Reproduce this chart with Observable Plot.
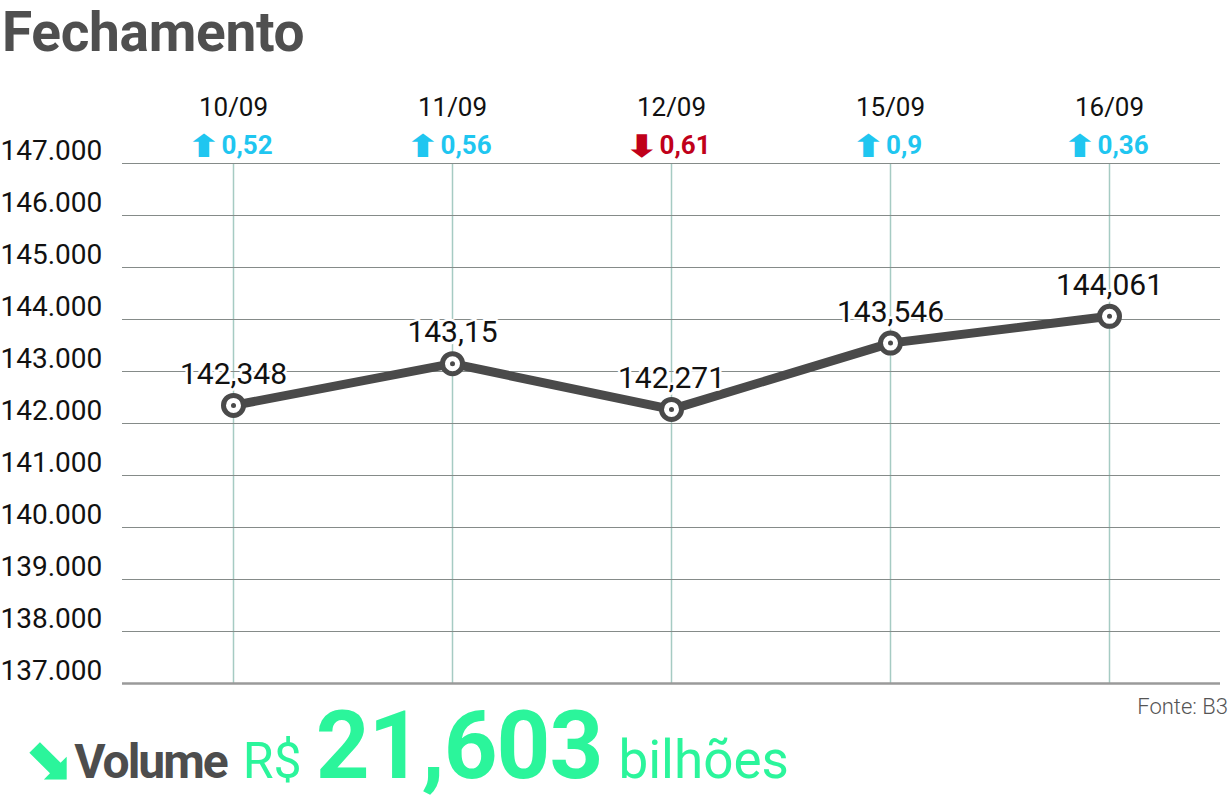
<!DOCTYPE html>
<html>
<head>
<meta charset="utf-8">
<script src="https://cdn.jsdelivr.net/npm/d3@7"></script>
<script src="https://cdn.jsdelivr.net/npm/@observablehq/plot@0.6"></script>
<style>
  html, body { margin: 0; padding: 0; background: #fff; }
  body { width: 1232px; height: 803px; position: relative; overflow: hidden; font-family: Roboto, sans-serif; }
  #title { position: absolute; left: 2px; top: 0px; font-size: 55px; line-height: normal; font-weight: 700; color: #4f4f4f; letter-spacing: -0.3px; }
  #chart { position: absolute; left: 0; top: 60px; }
  #source { position: absolute; right: 4px; top: 696px; font-size: 22px; line-height: 1; font-weight: 300; color: #555; }
  #volume { position: absolute; left: 0; top: 699px; display: flex; align-items: baseline; line-height: 1; color: #2bf59b; white-space: nowrap; }
  #volume .arrow { font-family: "DejaVu Sans", sans-serif; font-weight: 700; font-size: 60px; margin-left: 22px; }
  #volume .lbl { font-weight: 700; font-size: 48px; color: #4d4d4d; letter-spacing: -2px; margin-left: 2px; }
  #volume .cur { font-weight: 400; font-size: 50px; margin-left: 16px; }
  #volume .num { font-weight: 700; font-size: 94px; margin-left: 14px; letter-spacing: -1px; }
  #volume .unit { font-weight: 400; font-size: 53px; margin-left: 16px; }
</style>
</head>
<body>
<div id="title">Fechamento</div>
<div id="chart"></div>
<div id="source">Fonte: B3</div>
<div id="volume"><span class="arrow">⬊</span><span class="lbl">Volume</span><span class="cur" id="cur"></span><span class="num" id="num"></span><span class="unit" id="unit"></span></div>
<script>
// ---- data ----
const dates = ["10/09", "11/09", "12/09", "15/09", "16/09"];
const closes = [142348, 143150, 142271, 143546, 144061];
const closeLabels = ["142,348", "143,15", "142,271", "143,546", "144,061"];
const changes = [0.52, 0.56, -0.61, 0.9, 0.36];
const changeLabels = ["0,52", "0,56", "0,61", "0,9", "0,36"];
const yTicks = [137000, 138000, 139000, 140000, 141000, 142000, 143000, 144000, 145000, 146000, 147000];
const volumeCurrency = "R$";
const volumeValue = "21,603";
const volumeUnit = "bilhões";

document.getElementById("cur").textContent = volumeCurrency;
document.getElementById("num").textContent = volumeValue;
document.getElementById("unit").textContent = volumeUnit;

const br = d3.formatLocale({decimal: ",", thousands: ".", grouping: [3], currency: ["R$", ""]});
const fmt = br.format(",");

const data = dates.map((d, i) => ({
  date: d,
  close: closes[i],
  label: closeLabels[i],
  change: changes[i],
  arrow: changes[i] >= 0 ? "⬆" : "⬇",
  changeLabel: changeLabels[i]
}));

const gridTicks = yTicks.filter(t => t !== yTicks[0]);
const upColor = "#1fc6f0", downColor = "#c0001a";

const chart = Plot.plot({
  width: 1232,
  height: 640,
  marginLeft: 122,
  marginRight: 12,
  marginTop: 103,
  marginBottom: 17,
  x: {type: "point", domain: dates, padding: 0.5, axis: null},
  y: {domain: [137000, 147000], axis: null},
  style: {fontFamily: "Roboto, sans-serif", background: "transparent", overflow: "visible"},
  marks: [
    Plot.ruleX(dates, {x: d => d, stroke: "#a6cbc3", strokeWidth: 1.5}),
    Plot.ruleY(gridTicks, {y: d => d, stroke: "#858b89", strokeWidth: 1.2}),
    Plot.ruleY([yTicks[0]], {y: d => d, stroke: "#9a9a9a", strokeWidth: 2.5}),
    Plot.text(yTicks, {y: d => d, frameAnchor: "left", dx: -122, dy: -12, textAnchor: "start", text: d => fmt(d), fontSize: 28, fill: "#111", letterSpacing: "-0.5px"}),
    Plot.line(data, {x: "date", y: "close", stroke: "#4a4a4a", strokeWidth: 9, strokeLinejoin: "round"}),
    Plot.dot(data, {x: "date", y: "close", r: 10, fill: "white", stroke: "#4a4a4a", strokeWidth: 5}),
    Plot.dot(data, {x: "date", y: "close", r: 2.5, fill: "#4a4a4a"}),
    Plot.text(data, {x: "date", y: "close", text: "label", dy: -31, fontSize: 30, fill: "#111", stroke: "white", strokeWidth: 5, letterSpacing: "-1px"}),
    Plot.text(data, {x: "date", text: "date", frameAnchor: "top", lineAnchor: "middle", dy: -56, fontSize: 26, fill: "#111"}),
    Plot.text(data, {x: "date", text: "changeLabel", frameAnchor: "top", lineAnchor: "middle", dy: -18, fontSize: 26, fontWeight: "bold",
      fill: d => d.change >= 0 ? upColor : downColor})
  ]
});
document.getElementById("chart").appendChild(chart);

// add a heavy arrow glyph before each change value, centring arrow + value together
const textGroups = chart.querySelectorAll('g[aria-label="text"]');
const changeGroup = textGroups[textGroups.length - 1];
const sx = 1.75, sy = 1.3;
d3.select(changeGroup).selectAll("text").each(function(_, i) {
  const el = d3.select(this);
  const base = el.attr("transform") || "";
  const w = this.getComputedTextLength();
  const a = d3.select(changeGroup).append("text")
    .attr("font-family", "DejaVu Sans, sans-serif")
    .attr("font-weight", "bold")
    .attr("font-size", 24)
    .attr("text-anchor", "end")
    .attr("dy", "0.36em")
    .attr("fill", data[i].change >= 0 ? upColor : downColor)
    .text(data[i].arrow);
  const B = a.node().getComputedTextLength() * sx;
  const W = B + w;
  const start = -W / 2 + B - 4;
  el.attr("text-anchor", "start").attr("x", start);
  a.attr("transform", `${base} translate(${start},0) scale(${sx},${sy})`);
});
</script>
</body>
</html>
